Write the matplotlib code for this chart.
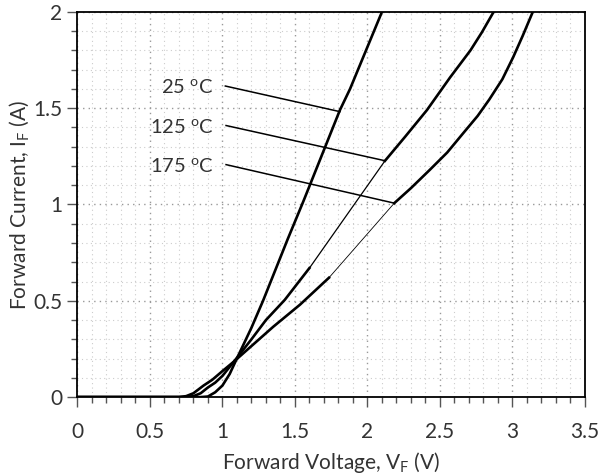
import matplotlib
matplotlib.use("Agg")
import matplotlib.pyplot as plt
from matplotlib.ticker import MultipleLocator

plt.rcParams['font.family'] = ['Lato', 'DejaVu Sans']

# 25 C - measured, one piece
v25 = [0, 0.85, 0.9, 0.95, 1.0, 1.05, 1.09, 1.2, 1.28, 1.45, 1.56, 1.81, 1.88, 2.10]
i25 = [0, 0, 0.003, 0.025, 0.06, 0.12, 0.185, 0.36, 0.5, 0.82, 1.02, 1.49, 1.6, 2.0]

# 125 C - measured low / high parts
v125_lo = [0, 0.75, 0.8, 0.85, 0.9, 0.95, 1.0, 1.08, 1.2, 1.3, 1.43, 1.6]
i125_lo = [0, 0, 0.005, 0.02, 0.05, 0.075, 0.11, 0.185, 0.3, 0.4, 0.505, 0.67]
v125_hi = [2.12, 2.26, 2.41, 2.49, 2.57, 2.64, 2.71, 2.79, 2.87]
i125_hi = [1.226, 1.352, 1.49, 1.575, 1.66, 1.73, 1.80, 1.895, 2.0]

# 175 C - measured low / high parts
v175_lo = [0, 0.7, 0.75, 0.8, 0.87, 0.93, 1.0, 1.08, 1.2, 1.35, 1.535, 1.735]
i175_lo = [0, 0, 0.005, 0.02, 0.06, 0.09, 0.135, 0.185, 0.265, 0.365, 0.48, 0.62]
v175_hi = [2.185, 2.3, 2.43, 2.55, 2.66, 2.76, 2.84, 2.93, 3.005, 3.07, 3.14]
i175_hi = [1.007, 1.085, 1.18, 1.27, 1.37, 1.46, 1.545, 1.65, 1.765, 1.875, 2.0]

labels = ["25 $^\\mathregular{o}$C", "125 $^\\mathregular{o}$C", "175 $^\\mathregular{o}$C"]
label_xy = [(1.02, 1.615), (1.025, 1.41), (1.025, 1.207)]
arrow_xy = [(1.81, 1.482), (2.116, 1.228), (2.185, 1.007)]

fig = plt.figure(figsize=(6, 4.75), dpi=100)
ax = fig.add_axes([0.129, 0.164, 0.846, 0.811])

ax.plot(v25, i25, color='black', lw=1.9)
ax.plot(v125_lo, i125_lo, color='black', lw=1.9)
ax.plot([v125_lo[-1], v125_hi[0]], [i125_lo[-1], i125_hi[0]], color='black', lw=0.9)
ax.plot(v125_hi, i125_hi, color='black', lw=1.9)
ax.plot(v175_lo, i175_lo, color='black', lw=1.9)
ax.plot([v175_lo[-1], v175_hi[0]], [i175_lo[-1], i175_hi[0]], color='black', lw=0.6)
ax.plot(v175_hi, i175_hi, color='black', lw=1.9)

for lab, (tx, ty), (ax_, ay) in zip(labels, label_xy, arrow_xy):
    ax.plot([tx, ax_], [ty, ay], color='black', lw=1.1)
    ax.text(tx - 0.08, ty - 0.01, lab, ha='right', va='center', fontsize=14.5,
            color='#333333')

ax.set_xlim(0, 3.5)
ax.set_ylim(0, 2)
ax.xaxis.set_major_locator(MultipleLocator(0.5))
ax.xaxis.set_minor_locator(MultipleLocator(0.1))
ax.yaxis.set_major_locator(MultipleLocator(0.5))
ax.yaxis.set_minor_locator(MultipleLocator(0.1))
ax.xaxis.set_major_formatter(plt.FuncFormatter(lambda v, p: f"{v:g}"))
ax.yaxis.set_major_formatter(plt.FuncFormatter(lambda v, p: f"{v:g}"))

ax.grid(which='major', color='#999999', linestyle=(0, (1, 3)), lw=1.0)
ax.grid(which='minor', color='#cccccc', linestyle=(0, (1, 3)), lw=0.8)
ax.set_axisbelow(True)

ax.tick_params(which='major', direction='out', length=7, width=1, color='#555555',
               labelsize=15, labelcolor='#333333')
ax.tick_params(which='minor', direction='out', length=4.5, width=1, color='#555555')
ax.tick_params(axis='x', which='major', pad=11)
ax.tick_params(axis='y', which='major', pad=4)
for s in ax.spines.values():
    s.set_linewidth(1.3)
    s.set_color('black')

ax.set_xlabel("Forward Voltage, V$_\\mathregular{F}$ (V)", fontsize=15, color='#333333',
              labelpad=6)
ax.set_ylabel("Forward Current, I$_\\mathregular{F}$ (A)", fontsize=15, color='#333333',
              labelpad=1)

fig.savefig("out.png", dpi=100)
